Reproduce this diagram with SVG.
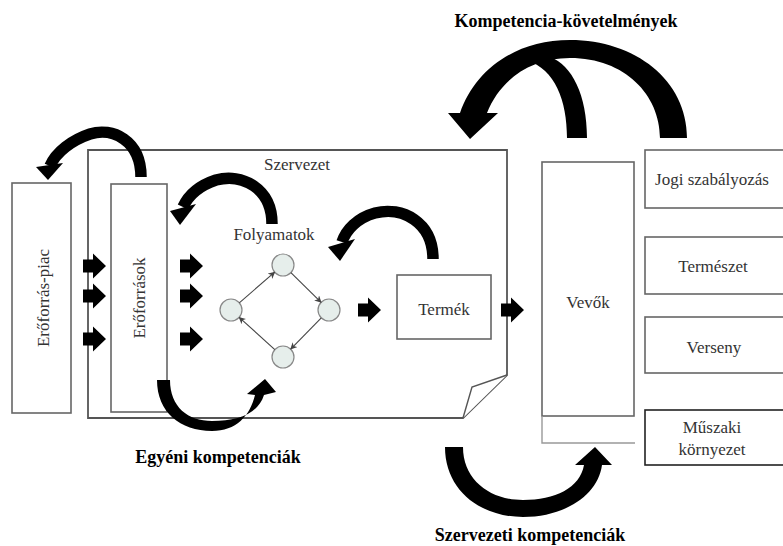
<svg xmlns="http://www.w3.org/2000/svg" width="783" height="546" viewBox="0 0 783 546">
<style>
.box{fill:#fff;stroke:#666;stroke-width:1.6}
.frame{fill:#fff;stroke:#555;stroke-width:1.8}
.txt{font-size:17px;fill:#333;text-anchor:middle}
.lbl{font-size:18px;font-weight:bold;fill:#000;text-anchor:middle}
.blk{fill:#000}
.cbody{fill:none;stroke:#000;stroke-width:11.5}
.node{fill:#e6eeeb;stroke:#888;stroke-width:1.2}
.edge{fill:none;stroke:#444;stroke-width:1.1;marker-end:url(#sm)}
</style>
<defs>
<marker id="sm" viewBox="0 0 10 10" refX="9" refY="5" markerWidth="7" markerHeight="7" orient="auto" markerUnits="userSpaceOnUse"><path d="M0,0 L10,5 L0,10 L3,5 Z" fill="#444"/></marker>
<path id="ba" d="M0,-6.5 H10 V-12.5 L23,0 L10,12.5 V6.5 H0 Z"/>
</defs>
<g font-family="'Liberation Serif', 'Times New Roman', 'DejaVu Serif', serif">

<g id="szervezet">
<path class="frame" d="M88,150 H507 V375 L463,418 H88 Z"/>
<path d="M507,375 L472,387 L463,418" fill="#fff" stroke="#555" stroke-width="1.4"/>
<text class="txt" x="297" y="170">Szervezet</text>
</g>

<g id="eroforras-piac">
<rect class="box" x="12" y="183" width="59" height="230"/>
<text class="txt" transform="translate(49,298) rotate(-90)">Erőforrás-piac</text>
</g>

<g id="eroforrasok">
<rect class="box" x="111" y="184" width="56" height="228"/>
<text class="txt" transform="translate(145,298) rotate(-90)">Erőforrások</text>
</g>

<g id="folyamatok">
<text class="txt" x="274" y="240">Folyamatok</text>
<circle class="node" cx="283" cy="265" r="11"/>
<circle class="node" cx="231" cy="310" r="11"/>
<circle class="node" cx="329" cy="310" r="11"/>
<circle class="node" cx="283" cy="357" r="11"/>
<path class="edge" d="M239.3,302.8 L274.7,272.2"/>
<path class="edge" d="M290.9,272.7 L321.1,302.3"/>
<path class="edge" d="M321.3,317.9 L290.7,349.1"/>
<path class="edge" d="M274.8,349.6 L239.2,317.4"/>
</g>

<g id="termek">
<rect class="box" x="397" y="275" width="94" height="64"/>
<text class="txt" x="444" y="315">Termék</text>
</g>

<g id="vevok">
<rect class="box" x="542" y="162" width="92" height="254"/>
<path d="M542,416 V443 H635" fill="none" stroke="#999" stroke-width="1.4"/>
<text class="txt" x="588" y="308">Vevők</text>
</g>

<g id="jogi">
<rect class="box" x="645" y="150" width="145" height="58"/>
<text class="txt" x="712" y="185">Jogi szabályozás</text>
</g>
<g id="termeszet">
<rect class="box" x="645" y="237" width="145" height="57"/>
<text class="txt" x="713" y="272">Természet</text>
</g>
<g id="verseny">
<rect class="box" x="645" y="317" width="145" height="56"/>
<text class="txt" x="714" y="353">Verseny</text>
</g>
<g id="muszaki">
<rect class="box" x="645" y="410" width="145" height="55" style="stroke:#222"/>
<text class="txt" x="712" y="433">Műszaki</text>
<text class="txt" x="712" y="455">környezet</text>
</g>

<g id="connectors">
<use href="#ba" x="83" y="266"/>
<use href="#ba" x="83" y="296"/>
<use href="#ba" x="83" y="339"/>
<use href="#ba" x="180" y="266"/>
<use href="#ba" x="180" y="296"/>
<use href="#ba" x="180" y="339"/>
<use href="#ba" x="358" y="310"/>
<use href="#ba" x="501" y="310"/>

<path class="cbody" d="M141,177 C141,140 112,127 90,134 C72,140 56,152 50,166"/>
<polygon class="blk" points="36,167 63,163 48,180"/>

<path class="cbody" d="M272,224 C272,188 242,173 216,180 C198,186 188,196 183,207"/>
<polygon class="blk" points="170,211 196,204 180,225"/>

<path class="cbody" d="M433,259 C433,222 402,206 375,213 C357,218 346,230 342,242"/>
<polygon class="blk" points="328,247 355,239 340,261"/>

<path class="blk" d="M687,138 C687,80 635,40 570,40 C515,40 475,70 460,113 L448,113 L470,139 L498,113 L487,113 C500,80 530,58 570,58 C625,58 660,95 660,138 Z"/>
<path class="blk" d="M527,60 C555,70 567,100 567,138 L587,138 C587,95 572,65 550,57 Z"/>

<path class="blk" d="M157,380 C157,412 180,431 212,431 C236,431 250,416 255,395 L247,394 L265,379 L276,392 L264,395 C258,414 238,421 212,421 C188,421 170,407 170,380 Z"/>

<path class="blk" d="M445,447 C445,490 480,517 523,517 C565,517 598,495 602,465 L612,465 L595,447 L575,465 L584,465 C580,488 555,500 523,500 C490,500 463,480 463,447 Z"/>
</g>

<g id="labels">
<text class="lbl" x="566" y="27">Kompetencia-követelmények</text>
<text class="lbl" x="218" y="463">Egyéni kompetenciák</text>
<text class="lbl" x="530" y="541">Szervezeti kompetenciák</text>
</g>
</g>
</svg>
